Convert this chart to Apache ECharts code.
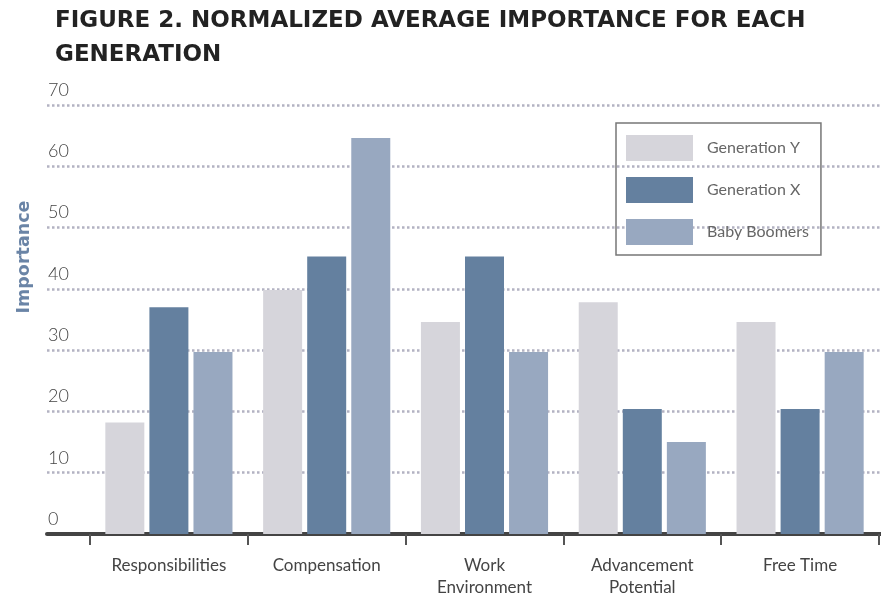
<!DOCTYPE html>
<html>
<head>
<meta charset="utf-8">
<script src="https://cdn.jsdelivr.net/npm/echarts@6/dist/echarts.min.js"></script>
<style>
  html, body { margin: 0; padding: 0; background: #fff; }
  #chart { width: 881px; height: 599px; }
</style>
</head>
<body>
<div id="chart"></div>
<script>
const categories = ['Responsibilities', 'Compensation', 'Work\nEnvironment', 'Advancement\nPotential', 'Free Time'];
const genY = [18.2, 39.8, 34.6, 37.8, 34.6];
const genX = [37.0, 45.3, 45.3, 20.4, 20.4];
const boomers = [29.7, 64.6, 29.7, 15.0, 29.7];
const yTicks = [0, 10, 20, 30, 40, 50, 60, 70];

const gridTop = 105, gridBottom = 65;
const font = 'Lato, "Noto Sans", sans-serif';

const chart = echarts.init(document.getElementById('chart'));
chart.setOption({
  backgroundColor: '#fff',
  animation: false,
  title: {
    text: 'FIGURE 2. NORMALIZED AVERAGE IMPORTANCE FOR EACH\nGENERATION',
    left: 50, top: -1,
    textStyle: { fontFamily: '"DejaVu Sans", sans-serif', fontSize: 23, fontWeight: 'bold', color: '#222', lineHeight: 34 }
  },
  graphic: [{
    type: 'text', x: 24, y: 257, rotation: Math.PI / 2,
    style: { text: 'Importance', fontFamily: '"DejaVu Sans", sans-serif', fontSize: 17.5, fontWeight: 'bold', fill: '#6a84a6', align: 'center', verticalAlign: 'middle' }
  }],
  legend: {
    orient: 'vertical', left: 616, top: 123,
    itemWidth: 67, itemHeight: 26, itemGap: 16,
    padding: [12, 12, 10, 10],
    borderColor: '#777', borderWidth: 1.5,
    icon: 'rect',
    textStyle: { fontFamily: font, fontSize: 16, color: '#666', padding: [0, 0, 0, 9] },
    data: ['Generation Y', 'Generation X', 'Baby Boomers']
  },
  grid: [
    { left: 47, right: 0, top: gridTop, bottom: gridBottom },
    { left: 90, right: 2, top: gridTop, bottom: gridBottom }
  ],
  xAxis: [
    { gridIndex: 0, type: 'value', min: 0, max: 1, axisLabel: { show: false }, axisTick: { show: false }, splitLine: { show: false },
      axisLine: { show: true, lineStyle: { color: '#444', width: 4 } } },
    { gridIndex: 1, type: 'category', data: categories, boundaryGap: true,
      axisLine: { show: false },
      axisTick: { show: true, length: 11, lineStyle: { color: '#555', width: 2 } },
      axisLabel: { margin: 21, fontFamily: font, fontSize: 17, color: '#444', lineHeight: 22, verticalAlign: 'top' } }
  ],
  yAxis: [
    { gridIndex: 0, type: 'value', min: yTicks[0], max: yTicks[yTicks.length - 1], interval: 10,
      axisLine: { show: false }, axisTick: { show: false },
      axisLabel: { inside: true, margin: 1, fontFamily: font, fontSize: 18, fontWeight: 300, color: '#444', verticalAlign: 'bottom', padding: [0, 0, 6, 0] },
      splitLine: { show: true, lineStyle: { color: '#b3b2c2', width: 2.5, type: [2.5, 2.5] } } },
    { gridIndex: 1, type: 'value', min: 0, max: 70, interval: 10, show: false, splitLine: { show: false } }
  ],
  series: [
    { name: 'Generation Y', type: 'bar', xAxisIndex: 1, yAxisIndex: 1, data: genY, barWidth: 39, barGap: '13%', itemStyle: { color: '#d6d5db' } },
    { name: 'Generation X', type: 'bar', xAxisIndex: 1, yAxisIndex: 1, data: genX, barWidth: 39, barGap: '13%', itemStyle: { color: '#64809f' } },
    { name: 'Baby Boomers', type: 'bar', xAxisIndex: 1, yAxisIndex: 1, data: boomers, barWidth: 39, barGap: '13%', itemStyle: { color: '#98a8c0' } }
  ]
});
</script>
</body>
</html>
